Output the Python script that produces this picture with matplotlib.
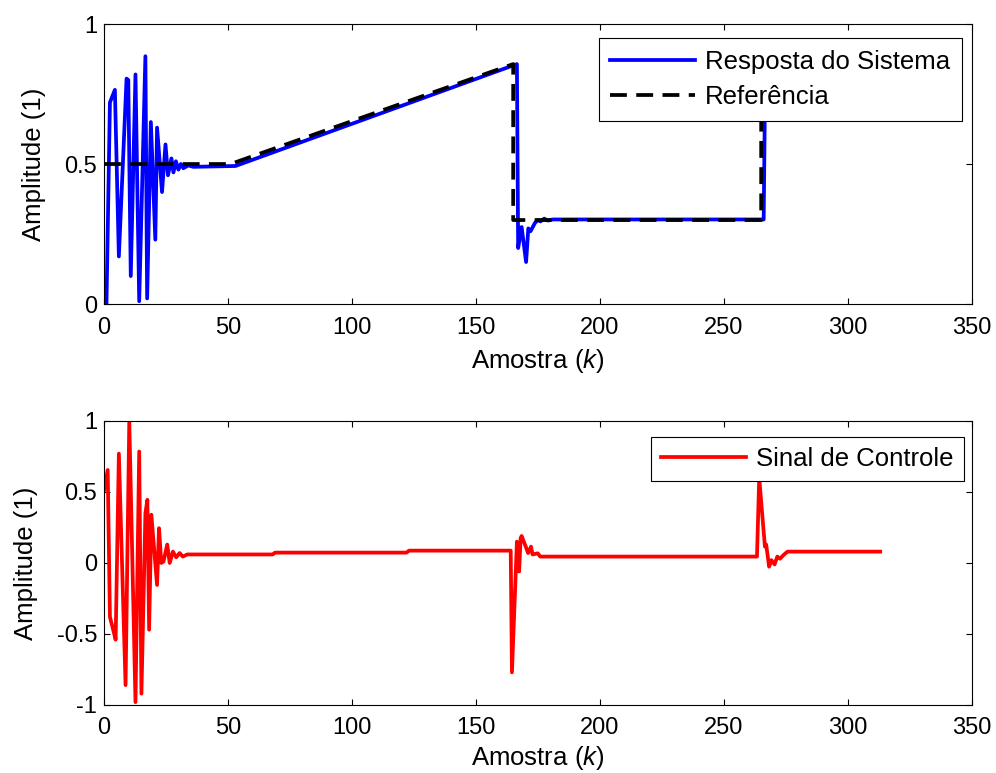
#!/usr/bin/env python

import matplotlib
matplotlib.use('Agg')
import matplotlib.pyplot as plt

from matplotlib import rcParams
rcParams['font.family'] = 'sans-serif'
rcParams['font.sans-serif'] = ['Liberation Sans', 'DejaVu Sans']
rcParams['mathtext.fontset'] = 'custom'
rcParams['mathtext.it'] = 'Liberation Sans:italic'
rcParams['mathtext.rm'] = 'Liberation Sans'

# Resposta do sistema (vertices)
resp_k = [0, 1, 2.4, 4.4, 6, 9.1, 9.8, 10.8, 12.7, 14.2, 16.7, 17.4, 18.9, 20.7,
          21.4, 23.4, 24.8, 25.8, 27.2, 28, 29, 30, 31, 32, 34, 36, 53,
          166.5, 167, 168.4, 170.2, 171.1, 172, 173.8, 175, 176, 177.5, 179,
          181, 266, 266.6, 315]
resp_y = [0.0, 0.0, 0.72, 0.765, 0.17, 0.805, 0.80, 0.10, 0.82, 0.01, 0.885,
          0.02, 0.65, 0.23, 0.63, 0.40, 0.57, 0.46, 0.52, 0.47, 0.51, 0.48,
          0.50, 0.485, 0.495, 0.49, 0.493, 0.857, 0.20, 0.275, 0.15, 0.27,
          0.26, 0.29, 0.30, 0.295, 0.305, 0.298, 0.302, 0.302, 0.80, 0.80]

# Referencia
ref_k = [0, 51, 165, 165, 265, 265, 315]
ref_y = [0.5, 0.5, 0.857, 0.3, 0.3, 0.8, 0.8]

# Sinal de controle
ctrl_k = [0, 1.5, 2.4, 3.7, 4.7, 6, 8.7, 10.2, 12.7, 14.2, 15.1, 16.7, 17.5,
          18.2, 19.1, 21.4, 22.2, 23.1, 24, 25.5, 26.5, 27.8, 29.1, 30.5, 31.8,
          33.6, 68, 69, 122, 123, 164, 164.5, 166.5, 167.4, 168, 168.4, 170.4,
          171, 172.2, 172.8, 174.9, 175.9, 263.3, 264.2, 266.5, 267, 268.2,
          269.1, 270.4, 271.5, 272.6, 274, 275.6, 313]
ctrl_y = [0.51, 0.655, -0.38, -0.47, -0.54, 0.77, -0.86, 1.0, -0.98, 0.785,
          -0.92, 0.35, 0.445, -0.47, 0.34, -0.155, 0.245, 0.0, 0.01, 0.13, 0.0,
          0.08, 0.04, 0.07, 0.045, 0.06, 0.06, 0.073, 0.073, 0.087, 0.087,
          -0.77, 0.15, -0.06, 0.175, 0.19, 0.10, 0.07, 0.115, 0.06, 0.068,
          0.045, 0.045, 0.6, 0.115, 0.13, -0.026, 0.02, -0.01, 0.045, 0.03,
          0.056, 0.08, 0.08]

xticks = [0, 50, 100, 150, 200, 250, 300, 350]

TICK_FS = 17
LABEL_FS = 18.5


def style_axes(ax, yticks, ylim, xpad=5):
    ax.set_xlim(0, 350)
    ax.set_ylim(*ylim)
    ax.set_xticks(xticks)
    ax.set_yticks(yticks)
    ax.set_yticklabels(['%g' % v for v in yticks])
    ax.tick_params(direction='in', top=True, right=True, length=4.5,
                   width=0.8, labelsize=TICK_FS)
    ax.tick_params(axis='x', pad=9)
    ax.tick_params(axis='y', pad=5)
    for s in ax.spines.values():
        s.set_linewidth(0.8)
    ax.set_xlabel('Amostra ($k$)', fontsize=LABEL_FS, labelpad=xpad)
    ax.set_ylabel('Amplitude (1)', fontsize=LABEL_FS, labelpad=13)


fig = plt.figure(figsize=(9.96, 7.73), dpi=100)

ax1 = fig.add_axes([0.1044, 0.6067, 0.8715, 0.3622])
ax1.plot(resp_k, resp_y, color='b', linewidth=2.7, label='Resposta do Sistema')
ax1.plot(ref_k, ref_y, color='k', linewidth=2.7, linestyle=(0, (4.5, 2.5)),
         label='Referência')
style_axes(ax1, [0, 0.5, 1], (0, 1), xpad=6)
leg1 = ax1.legend(loc='upper right', bbox_to_anchor=(0.9885, 0.95),
                  borderaxespad=0, fontsize=LABEL_FS, fancybox=False,
                  framealpha=1, edgecolor='k', handlelength=3.3,
                  handletextpad=0.4, labelspacing=0.45, borderpad=0.45)
leg1.get_frame().set_linewidth(0.8)

ax2 = fig.add_axes([0.1044, 0.088, 0.8715, 0.3674])
ax2.plot(ctrl_k, ctrl_y, color='r', linewidth=2.7, label='Sinal de Controle')
style_axes(ax2, [-1, -0.5, 0, 0.5, 1], (-1, 1), xpad=3)
leg2 = ax2.legend(loc='upper right', bbox_to_anchor=(0.9908, 0.9447),
                  borderaxespad=0, fontsize=LABEL_FS, fancybox=False,
                  framealpha=1, edgecolor='k', handlelength=3.3,
                  handletextpad=0.4, borderpad=0.4)
leg2.get_frame().set_linewidth(0.8)

plt.savefig('out.png', dpi=100)
